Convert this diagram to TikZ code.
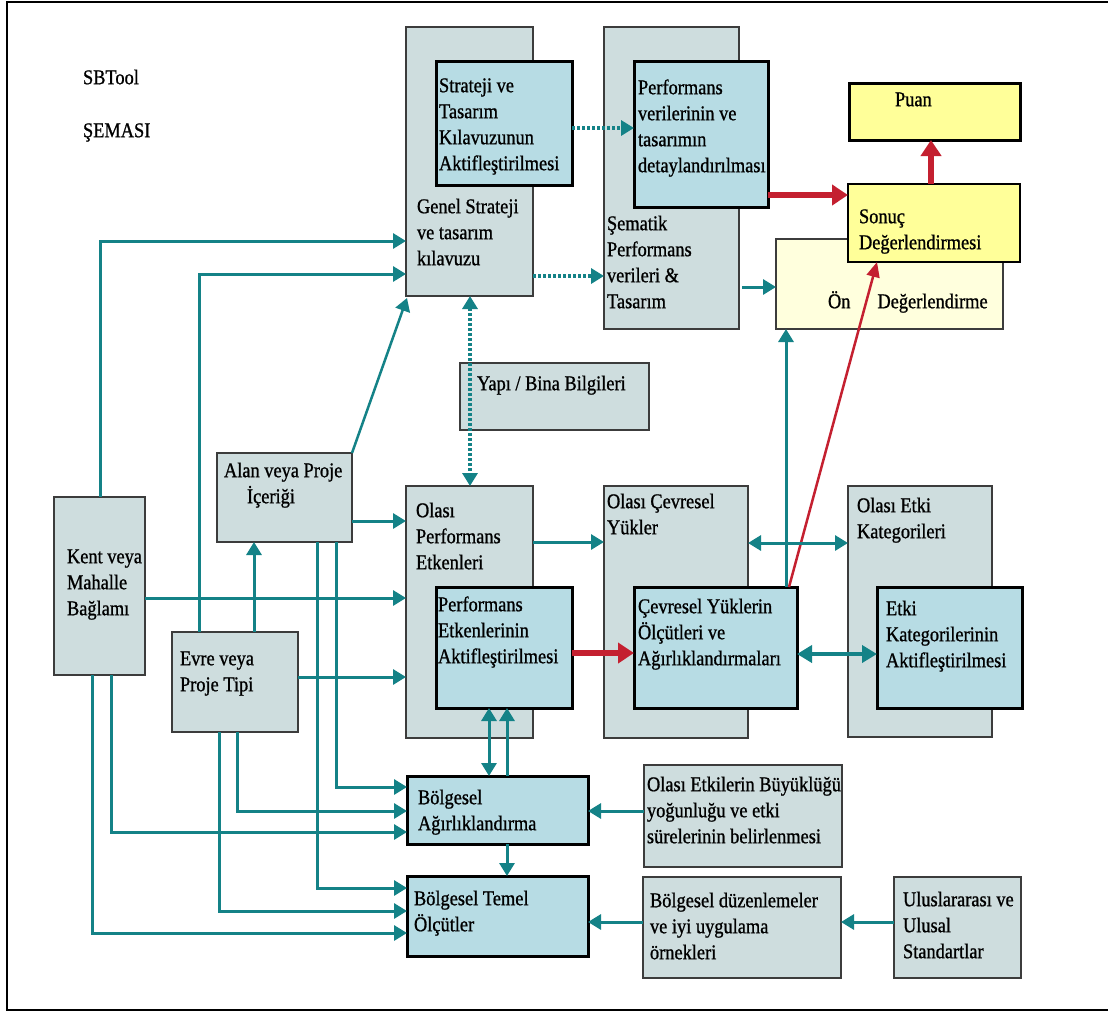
\documentclass[tikz,border=0pt]{standalone}
\usepackage{fontspec}
\setmainfont{Liberation Serif}[FakeStretch=0.875,FakeBold=0.9]
\usetikzlibrary{arrows.meta,calc}

\definecolor{tealline}{RGB}{20,130,135}
\definecolor{redline}{RGB}{196,32,48}
\definecolor{grayfill}{RGB}{206,221,222}
\definecolor{bluefill}{RGB}{183,220,228}
\definecolor{yelfill}{RGB}{255,255,153}
\definecolor{palefill}{RGB}{255,255,221}
\definecolor{edgegray}{RGB}{60,60,60}
\newcommand\dfont{\fontsize{21}{26}\selectfont}

\tikzset{
  boxbase/.style={anchor=north west, inner sep=0pt, outer sep=0pt},
  graybox/.style={boxbase, draw=edgegray, line width=1.3pt, fill=grayfill},
  bluebox/.style={boxbase, draw=black, line width=3pt, fill=bluefill},
  yelbox/.style={boxbase, draw=black, line width=1.5pt, fill=yelfill},
  puanbox/.style={boxbase, draw=black, line width=3pt, fill=yelfill},
  palebox/.style={boxbase, draw=edgegray, line width=1.3pt, fill=palefill},
  lbl/.style={anchor=north west, inner sep=0pt, outer sep=0pt, align=left, font=\dfont, text=black},
  >={Triangle[length=13pt,width=15pt]},
  ta/.style={draw=tealline, line width=3pt, ->},
  tab/.style={draw=tealline, line width=3pt, <->},
  tdot/.style={draw=tealline, line width=4pt, dash pattern=on 3pt off 2pt},
  tthick/.style={draw=tealline, line width=4.5pt, {Triangle[length=15pt,width=17pt]}-{Triangle[length=15pt,width=17pt]}},
  rthick/.style={draw=redline, line width=5.5pt, -{Triangle[length=16pt,width=20pt]}},
  rthin/.style={draw=redline, line width=2.5pt, -{Triangle[length=15pt,width=13pt]}},
}

\begin{document}
\begin{tikzpicture}[x=1pt,y=-1pt]
\useasboundingbox (0,0) rectangle (1108,1012);
\fill[white] (0,0) rectangle (1108,1012);

% frame
\draw[line width=2.5pt] (1108,2) -- (7,2) -- (7,1010) -- (1108,1010);

% title
\node[lbl] (sbt) at (83,66) {\strut SBTool};
\node[lbl] (sema) at (83,119) {\strut ŞEMASI};

% upper row
\node[graybox, minimum width=127pt, minimum height=269pt] (genel) at (406,27) {};
\node[bluebox, minimum width=136pt, minimum height=124pt] (strat) at (436,61) {};
\node[graybox, minimum width=135pt, minimum height=302pt] (sem) at (604,27) {};
\node[bluebox, minimum width=134pt, minimum height=146pt] (perfver) at (634,61) {};
\node[puanbox, minimum width=171pt, minimum height=57pt] (puan) at (849,83) {};
\node[palebox, minimum width=227pt, minimum height=90pt] (on) at (776,239) {};
\node[yelbox, minimum width=172pt, minimum height=78pt] (sonuc) at (848,184) {};
\node[graybox, minimum width=189pt, minimum height=67pt] (yapi) at (460,363) {};

% middle row
\node[graybox, minimum width=127pt, minimum height=252pt] (ope) at (406,486) {};
\node[bluebox, minimum width=136pt, minimum height=121pt] (pea) at (436,587) {};
\node[graybox, minimum width=144pt, minimum height=252pt] (ocy) at (604,486) {};
\node[bluebox, minimum width=163pt, minimum height=121pt] (cyo) at (634,587) {};
\node[graybox, minimum width=144pt, minimum height=251pt] (oek) at (848,486) {};
\node[bluebox, minimum width=145pt, minimum height=121pt] (eka) at (877,587) {};

% inputs on the left
\node[graybox, minimum width=135pt, minimum height=89pt] (alan) at (217,453) {};
\node[graybox, minimum width=91pt, minimum height=178pt] (kent) at (54,497) {};
\node[graybox, minimum width=126pt, minimum height=100pt] (evre) at (172,632) {};

% lower row
\node[bluebox, minimum width=181pt, minimum height=68pt] (bolA) at (407,776) {};
\node[bluebox, minimum width=181pt, minimum height=80pt] (bolT) at (407,876) {};
\node[graybox, minimum width=198pt, minimum height=102pt] (oeb) at (644,765) {};
\node[graybox, minimum width=198pt, minimum height=101pt] (bdu) at (643,877) {};
\node[graybox, minimum width=127pt, minimum height=101pt] (uus) at (894,877) {};

% labels
\node[lbl] (stratT) at (439,74) {\strut Strateji ve\\Tasarım\\Kılavuzunun\\Aktifleştirilmesi};
\node[lbl] (genelT) at (417,195) {\strut Genel Strateji\\ve tasarım\\kılavuzu};
\node[lbl] (perfverT) at (638,76) {\strut Performans\\verilerinin ve\\tasarımın\\detaylandırılması};
\node[lbl] (semT) at (607,212) {\strut Şematik\\Performans\\verileri \&\\Tasarım};
\node[lbl] (puanT) at (895,88) {\strut Puan};
\node[lbl] (sonucT) at (859,205) {\strut Sonuç\\Değerlendirmesi};
\node[lbl] (onT) at (828,290) {\strut Ön\hspace{27pt}Değerlendirme};
\node[lbl] (yapiT) at (477,372) {\strut Yapı / Bina Bilgileri};
\node[lbl] (opeT) at (416,499) {\strut Olası\\Performans\\Etkenleri};
\node[lbl] (peaT) at (438,593) {\strut Performans\\Etkenlerinin\\Aktifleştirilmesi};
\node[lbl] (ocyT) at (607,490) {\strut Olası Çevresel\\Yükler};
\node[lbl] (cyoT) at (638,595) {\strut Çevresel Yüklerin\\Ölçütleri ve\\Ağırlıklandırmaları};
\node[lbl] (oekT) at (857,494) {\strut Olası Etki\\Kategorileri};
\node[lbl] (ekaT) at (886,597) {\strut Etki\\Kategorilerinin\\Aktifleştirilmesi};
\node[lbl] (alanT) at (224,459) {\strut Alan veya Proje\\\hspace*{23pt}İçeriği};
\node[lbl] (kentT) at (67,545) {\strut Kent veya\\Mahalle\\Bağlamı};
\node[lbl] (evreT) at (180,647) {\strut Evre veya\\Proje Tipi};
\node[lbl] (bolAT) at (418,786) {\strut Bölgesel\\Ağırlıklandırma};
\node[lbl] (bolTT) at (414,887) {\strut Bölgesel Temel\\Ölçütler};
\node[lbl] (oebT) at (647,773) {\strut Olası Etkilerin Büyüklüğü\\yoğunluğu ve etki\\sürelerinin belirlenmesi};
\node[lbl] (bduT) at (650,889) {\strut Bölgesel düzenlemeler\\ve iyi uygulama\\örnekleri};
\node[lbl] (uusT) at (903,888) {\strut Uluslararası ve\\Ulusal\\Standartlar};

% connectors into the strategy box
\draw[ta] ($(kent.north west)+(46,0)$) |- ($(genel.north west)+(0,214)$);
\draw[ta] ($(evre.north west)+(27,0)$) |- ($(genel.north west)+(0,247)$);
\draw[ta, line width=2.5pt] (alan.north east) -- ($(genel.south west)+(1,2)$);

% dotted links
\draw[tdot, <->] ($(genel.south west)+(64,0)$) -- ($(ope.north west)+(64,0)$);
\draw[tdot, ->] ($(strat.north east)+(0,67)$) -- ($(perfver.north west)+(0,67)$);
\draw[tdot, ->] ($(genel.north east)+(0,249)$) -- ($(sem.north west)+(0,249)$);

% towards the evaluation boxes
\draw[ta] ($(sem.north east)+(3,260)$) -- ($(on.north west)+(0,48)$);
\draw[rthick] ($(perfver.north east)+(0,134)$) -- ($(sonuc.north west)+(0,11)$);
\draw[rthick] ($(sonuc.north west)+(83,0)$) -- ($(puan.south west)+(82,0)$);
\draw[ta] ($(cyo.north west)+(152,0)$) -- ($(on.south west)+(10,0)$);
\draw[rthin] ($(cyo.north west)+(155,0)$) -- ($(sonuc.south west)+(29,0)$);

% middle row links
\draw[ta] ($(ope.north east)+(0,56)$) -- ($(ocy.north west)+(0,56)$);
\draw[tab] ($(ocy.north east)+(0,57)$) -- ($(oek.north west)+(0,57)$);
\draw[rthick] ($(pea.north east)+(0,66)$) -- ($(cyo.north west)+(0,66)$);
\draw[tthick] ($(cyo.north east)+(0,67)$) -- ($(eka.north west)+(0,67)$);

% inputs into the performance factors
\draw[ta] ($(alan.north east)+(0,68)$) -- ($(ope.north west)+(0,35)$);
\draw[ta] ($(kent.north east)+(0,101)$) -- ($(ope.north west)+(0,112)$);
\draw[ta] ($(evre.north east)+(0,45)$) -- ($(ope.north west)+(0,191)$);
\draw[ta] ($(evre.north west)+(82,0)$) -- ($(alan.south west)+(37,0)$);

% inputs into the regional boxes
\draw[ta] ($(alan.south west)+(119,0)$) |- ($(bolA.north west)+(0,11)$);
\draw[ta] ($(alan.south west)+(100,0)$) |- ($(bolT.north west)+(0,12)$);
\draw[ta] ($(evre.south west)+(65,0)$) |- ($(bolA.north west)+(0,35)$);
\draw[ta] ($(evre.south west)+(47,0)$) |- ($(bolT.north west)+(0,35)$);
\draw[ta] ($(kent.south west)+(57,0)$) |- ($(bolA.north west)+(0,56)$);
\draw[ta] ($(kent.south west)+(38,0)$) |- ($(bolT.north west)+(0,57)$);

\draw[tab] ($(pea.south west)+(53,0)$) -- ($(bolA.north west)+(82,0)$);
\draw[ta] ($(bolA.north west)+(100,0)$) -- ($(pea.south west)+(71,0)$);
\draw[ta] ($(bolA.south west)+(100,0)$) -- ($(bolT.north west)+(100,0)$);

\draw[ta] ($(oeb.north west)+(0,46)$) -- ($(bolA.north east)+(0,35)$);
\draw[ta] ($(bdu.north west)+(0,45)$) -- ($(bolT.north east)+(0,46)$);
\draw[ta] ($(uus.north west)+(0,45)$) -- ($(bdu.north east)+(0,45)$);
\end{tikzpicture}
\end{document}
